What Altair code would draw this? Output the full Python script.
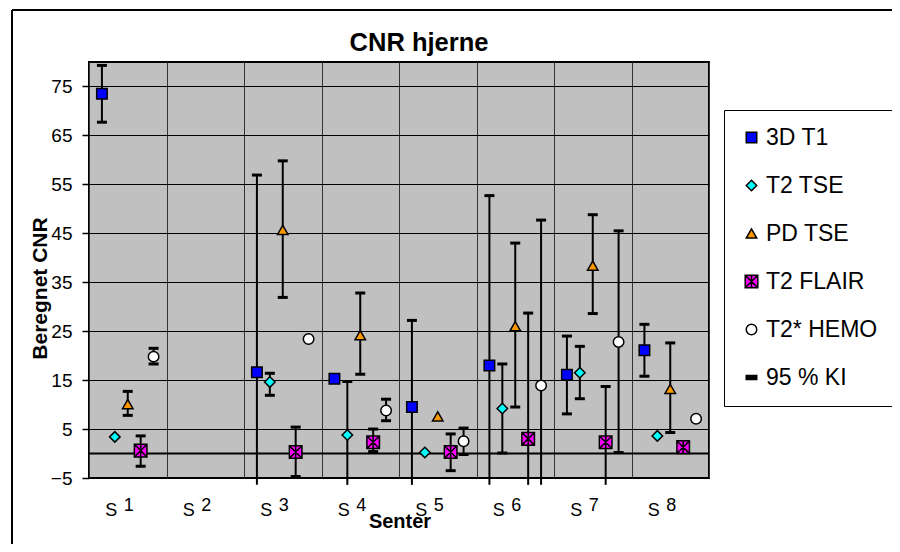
import altair as alt
import pandas as pd

# ---------------- data ----------------
sites = ["S1", "S2", "S3", "S4", "S5", "S6", "S7", "S8"]
series = ["3D T1", "T2 TSE", "PD TSE", "T2 FLAIR", "T2* HEMO"]
legend_entries = series + ["95 % KI"]

t1_val = [73.5, None, 16.6, 15.3, 9.5, 18.0, 16.1, 21.1]
t1_hi = [79.3, None, 56.9, None, 27.2, 52.7, 24.0, 26.4]
t1_lo = [67.7, None, -23.7, None, -8.2, -16.7, 8.1, 15.8]

t2tse_val = [3.4, None, 14.6, 3.8, 0.2, 9.2, 16.5, 3.6]
t2tse_hi = [None, None, 16.4, 14.7, None, 18.3, 21.9, None]
t2tse_lo = [None, None, 11.9, -7.1, None, 0.1, 11.2, None]

pd_val = [10.1, None, 45.7, 24.2, 7.6, 26.0, 38.4, 13.2]
pd_hi = [12.7, None, 59.8, 32.8, None, 43.0, 48.8, 22.6]
pd_lo = [7.8, None, 31.9, 16.2, None, 9.5, 28.6, 4.3]

flair_val = [0.6, None, 0.3, 2.3, 0.3, 3.0, 2.3, 1.3]
flair_hi = [3.6, None, 5.4, 5.0, 4.0, 28.7, 13.7, None]
flair_lo = [-2.6, None, -4.7, 0.4, -3.5, -22.7, -9.1, None]

hemo_val = [19.8, None, 23.4, 8.8, 2.5, 13.9, 22.8, 7.1]
hemo_hi = [21.5, None, None, 11.1, 5.2, 47.7, 45.5, None]
hemo_lo = [18.3, None, None, 6.7, -0.2, -19.9, 0.2, None]

y_ticks = [-5, 5, 15, 25, 35, 45, 55, 65, 75]
y_domain = [-5, 80]
axis_cross = [0]

# ---------------- styles ----------------
fills = ["#0000FF", "#00FFFF", "#FF9900", "#FF00FF", "#FFFFFF", "#000000"]
strokes = ["#000000"] * 6
shapes = [
    "square",
    "diamond",
    "triangle-up",
    "M-1.2,-1.2H1.2V1.2H-1.2Z M-1.2,-1.2L1.2,1.2 M1.2,-1.2L-1.2,1.2 M0,-1.2L0,1.2",
    "circle",
    "M-1,-0.4H1V0.4H-1Z",
]
FONT = "Liberation Sans"

rows = []
for name, vals, his, los in [
    ("3D T1", t1_val, t1_hi, t1_lo),
    ("T2 TSE", t2tse_val, t2tse_hi, t2tse_lo),
    ("PD TSE", pd_val, pd_hi, pd_lo),
    ("T2 FLAIR", flair_val, flair_hi, flair_lo),
    ("T2* HEMO", hemo_val, hemo_hi, hemo_lo),
]:
    for s, v, h, l in zip(sites, vals, his, los):
        if v is None:
            continue
        rows.append({"site": s, "series": name, "val": v, "hi": h, "lo": l})
df = pd.DataFrame(rows)

x_scale = alt.Scale(domain=sites, type="band", paddingInner=0, paddingOuter=0)
xo = alt.XOffset("series:N", scale=alt.Scale(domain=series, paddingInner=0, paddingOuter=0.5))
y_scale = alt.Scale(domain=y_domain, nice=False, zero=False)
y_axis = alt.Axis(
    values=y_ticks, grid=True, gridColor="#000000", gridWidth=1, gridOpacity=1,
    domain=False, ticks=True, tickColor="#000000", tickSize=7, tickWidth=1.5,
    labelFontSize=19, labelPadding=10, labelColor="#000000",
    title="Beregnet CNR", titleFontSize=21, titleFontWeight="bold", titleColor="#000000",
    titleAngle=-90, titleX=-49, titleY=226, titleAlign="center", titleBaseline="middle",
)

# "S" part of the category labels (shifted left via translate, compensated vertically)
axis_s = alt.Axis(
    orient="bottom", labelExpr="'S'", labelAlign="center", translate=-16, labelPadding=49,
    labelBaseline="middle",
    labelFontSize=18, labelColor="#000000", labelAngle=0,
    ticks=False, tickSize=0, domain=False, grid=False,
    title="Senter", titleFontSize=20, titleFontWeight="bold", titleColor="#000000",
    titleX=327, titleY=60, titleBaseline="middle", titleAlign="center",
)
# number part of the category labels
axis_num = alt.Axis(
    orient="bottom", labelExpr="substring(datum.label, 1)", translate=1.5, labelPadding=26,
    labelBaseline="middle", labelFontSize=18, labelColor="#000000", labelAngle=0,
    ticks=False, tickSize=0, domain=False, grid=False, title=None,
)
axis_grid = alt.Axis(
    orient="bottom", labels=False, ticks=False, tickSize=0, domain=False,
    grid=True, tickBand="extent", gridColor="#333333", gridWidth=1, gridOpacity=1,
    title=None,
)

leg = alt.Legend(
    title=None, orient="none", legendX=635, legendY=48, padding=16,
    fillColor="#FFFFFF", strokeColor="#000000", labelFontSize=23, labelColor="#000000",
    rowPadding=24, symbolSize=110, symbolStrokeWidth=1.5, labelOffset=3,
)

base = alt.Chart(df)

err = base.transform_filter("isValid(datum.hi)").transform_calculate(
    lo_draw="max(datum.lo, -6.4)"
).mark_rule(color="#000000", strokeWidth=2).encode(
    x=alt.X("site:N", scale=x_scale, axis=axis_num),
    xOffset=xo,
    y=alt.Y("lo_draw:Q", scale=y_scale, axis=y_axis),
    y2="hi:Q",
)

cap_hi = base.transform_filter("isValid(datum.hi)").mark_tick(
    color="#000000", thickness=3, size=10, opacity=1
).encode(
    x=alt.X("site:N", scale=x_scale, axis=axis_grid),
    xOffset=xo,
    y=alt.Y("hi:Q", scale=y_scale, axis=y_axis),
)
cap_lo = base.transform_filter("isValid(datum.lo) && datum.lo >= -5").mark_tick(
    color="#000000", thickness=3, size=10, opacity=1
).encode(
    x=alt.X("site:N", scale=x_scale, axis=None),
    xOffset=xo,
    y=alt.Y("lo:Q", scale=y_scale, axis=y_axis),
)

zero = alt.Chart(pd.DataFrame({"v": axis_cross})).mark_rule(
    color="#000000", strokeWidth=2
).encode(y=alt.Y("v:Q", scale=y_scale, axis=y_axis))

pts = base.mark_point(filled=True, opacity=1, size=110, strokeWidth=1.5).encode(
    x=alt.X("site:N", scale=x_scale, axis=axis_s),
    xOffset=xo,
    y=alt.Y("val:Q", scale=y_scale, axis=y_axis),
    shape=alt.Shape("series:N", scale=alt.Scale(domain=legend_entries, range=shapes), legend=leg),
    fill=alt.Fill("series:N", scale=alt.Scale(domain=legend_entries, range=fills), legend=leg),
    stroke=alt.Stroke("series:N", scale=alt.Scale(domain=legend_entries, range=strokes), legend=leg),
)

frame_src = pd.DataFrame({"k": [0]})
frame_left = alt.Chart(frame_src).mark_rule(color="#000000", strokeWidth=2).encode(
    x=alt.value(-77), y=alt.value(-52), y2=alt.value(490)
)
frame_top = alt.Chart(frame_src).mark_rule(color="#000000", strokeWidth=2).encode(
    x=alt.value(-77), x2=alt.value(900), y=alt.value(-52)
)

chart = alt.layer(zero, err, cap_hi, cap_lo, pts, frame_left, frame_top).resolve_axis(
    x="independent"
).properties(
    width=620, height=416,
    title=alt.TitleParams("CNR hjerne", fontSize=25.5, fontWeight="bold", anchor="middle",
                          frame="group", dx=20, offset=-67, baseline="alphabetic", color="#000000"),
    padding={"left": 81, "top": 54, "right": 183, "bottom": 66},
    autosize=alt.AutoSizeParams(type="none"),
).configure(font=FONT).configure_view(
    fill="#C0C0C0", stroke="#000000", strokeWidth=2
)

chart.save("out.html", embed_options={"renderer": "svg", "actions": False})
